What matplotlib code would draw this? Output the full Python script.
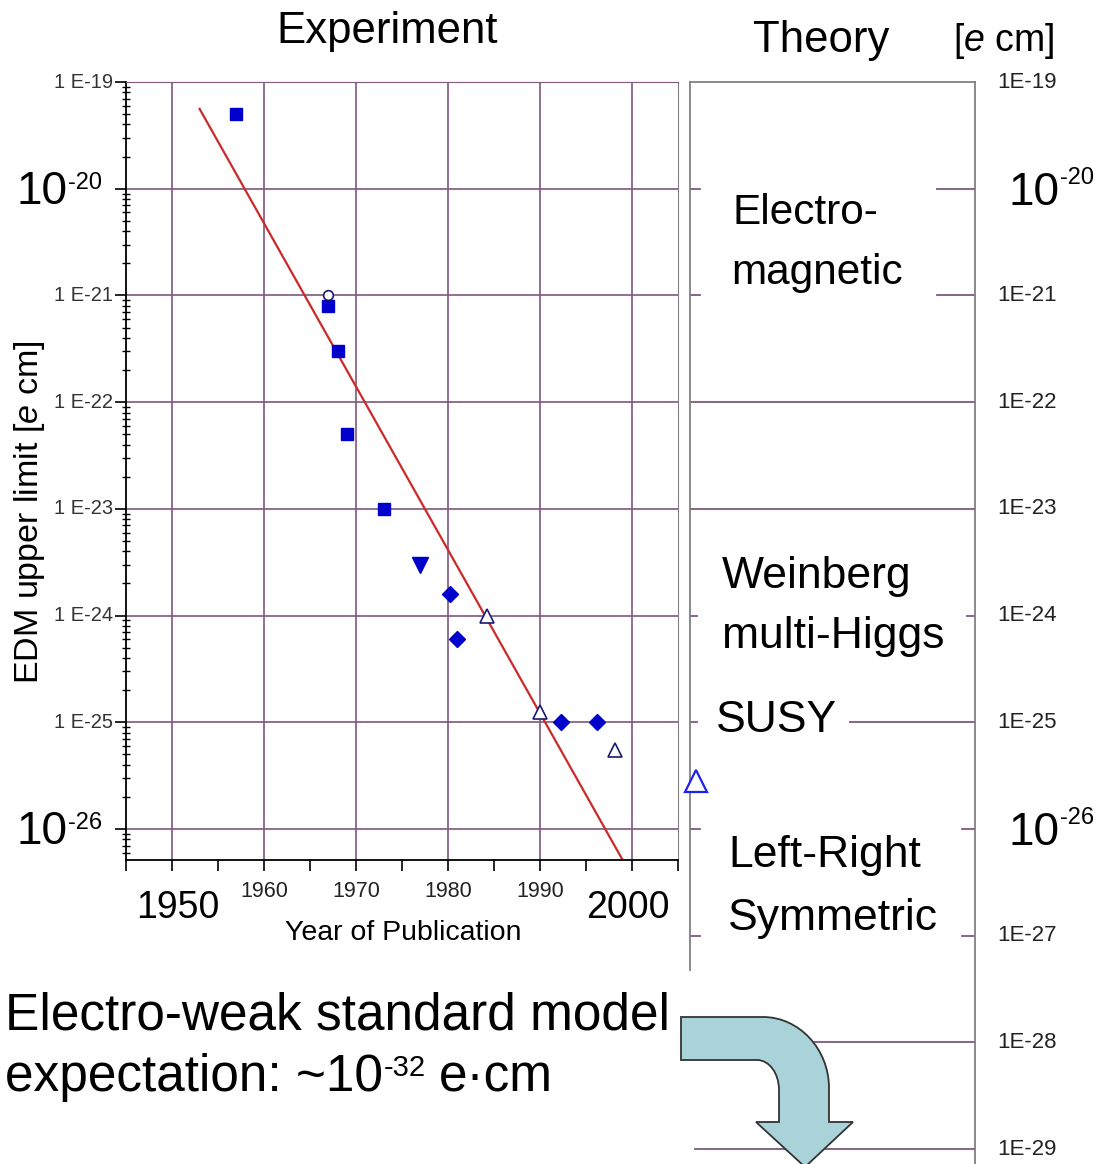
import numpy as np
import matplotlib
matplotlib.use('Agg')
import matplotlib.pyplot as plt
from matplotlib.path import Path
from matplotlib.patches import PathPatch
from matplotlib.ticker import LogLocator, NullFormatter, MultipleLocator, FixedLocator
from matplotlib.transforms import offset_copy

plt.rcParams['font.family'] = ['Liberation Sans', 'DejaVu Sans']
plt.rcParams['mathtext.fontset'] = 'custom'
plt.rcParams['mathtext.rm'] = 'Liberation Sans'
plt.rcParams['mathtext.it'] = 'Liberation Sans:italic'

#################################################################
# donnees

sq_year = [1957, 1967, 1968, 1969, 1973]
sq_edm = [5e-20, 8e-22, 3e-22, 5e-23, 1e-23]
circ_year = [1967]
circ_edm = [1e-21]
dtri_year = [1977]
dtri_edm = [3e-24]
dia_year = [1980.2, 1981, 1992.3, 1996.2]
dia_edm = [1.6e-24, 6e-25, 1e-25, 1e-25]
utri_year = [1984.2, 1990, 1998.2]
utri_edm = [1e-24, 1.25e-25, 5.5e-26]
new_year = [2007]
new_edm = [2.8e-26]

fit_year = [1953, 1999]
fit_edm = [5.6e-20, 5.1e-27]

year_ticks = [1950, 1960, 1970, 1980, 1990, 2000]
big_years = {1950: 6, 2000: -4}     # annee -> decalage en pixels
left_decades = [-19, -20, -21, -22, -23, -24, -25, -26]
right_decades = [-19, -20, -21, -22, -23, -24, -25, -26, -27, -28, -29]
big_decades = [-20, -26]

# (niveau, [segments en fraction d'axe])
theory_lines = [
    (1e-20, [(0, 0.035), (0.867, 1)]),
    (1e-21, [(0, 0.035), (0.867, 1)]),
    (1e-22, [(0, 1)]),
    (1e-23, [(0, 1)]),
    (1e-24, [(0, 0.025), (0.972, 1)]),
    (1e-25, [(0, 0.025), (0.56, 1)]),
    (1e-26, [(0, 0.035), (0.955, 1)]),
    (1e-27, [(0, 0.035), (0.955, 1)]),
    (1e-28, [(0.42, 1)]),
    (1e-29, [(0.018, 1)]),
]

# texte, x, ligne de base, taille
theory_labels = [
    ("Electro-", 732, 224, 30.5),
    ("magnetic", 731, 284, 30.5),
    ("Weinberg", 722, 588, 32),
    ("multi-Higgs", 722, 648, 32),
    ("SUSY", 716, 732, 32),
    ("Left-Right", 728, 867, 32),
    ("Symmetric", 728, 930, 32),
]

#################################################################

W, H = 1095, 1164
fig = plt.figure(figsize=(W / 100, H / 100), dpi=100)
fig.patch.set_facecolor('white')

def fx(x):
    return x / W

def fy(y):
    return 1 - y / H

GRID = '#7d587d'
GRAY = '#808080'

## panneau theorie (dessine en dessous du panneau experience)
ax2 = fig.add_axes([fx(690), 0, 285 / W, 1 - 82 / H], zorder=1)
ax2.set_yscale('log')
ax2.set_xlim(0, 1)
ax2.set_ylim(10 ** -29.14, 1e-19)
ax2.set_xticks([])
ax2.yaxis.set_major_locator(FixedLocator([]))
ax2.yaxis.set_minor_locator(FixedLocator([]))
for s in ['top', 'right', 'left']:
    ax2.spines[s].set_color(GRAY)
    ax2.spines[s].set_linewidth(1.3)
ax2.spines['bottom'].set_visible(False)
ax2.spines['left'].set_bounds(10 ** -27.32, 1e-19)

for lvl, segs in theory_lines:
    for a, b in segs:
        ax2.axhline(lvl, xmin=a, xmax=b, color=GRID, lw=1.3, zorder=1)

ytr2 = ax2.get_yaxis_transform()
for d in right_decades:
    if d in big_decades:
        t = offset_copy(ytr2, fig, x=33, y=-16, units='dots')
        ax2.text(1, 10.0 ** d, '10', transform=t, ha='left', va='baseline',
                 fontsize=33, clip_on=False)
        t = offset_copy(ytr2, fig, x=85, y=5, units='dots')
        ax2.text(1, 10.0 ** d, '-%d' % -d, transform=t, ha='left', va='baseline',
                 fontsize=17, clip_on=False)
    else:
        t = offset_copy(ytr2, fig, x=22, y=0, units='dots')
        ax2.text(1, 10.0 ** d, '1E%d' % d, transform=t, ha='left', va='center',
                 fontsize=16, color='#222222', clip_on=False)

for txt, x, y, fs in theory_labels:
    fig.text(fx(x), fy(y), txt, ha='left', va='baseline', fontsize=fs)

## panneau experience
ax = fig.add_axes([fx(126), fy(860), 552 / W, 778 / H], zorder=2)
ax.patch.set_alpha(0)
ax.set_yscale('log')
ax.set_xlim(1945, 2005)
ax.set_ylim(10 ** -26.29, 1e-19)

ax.xaxis.set_major_locator(MultipleLocator(5))
ax.yaxis.set_major_locator(FixedLocator([10.0 ** d for d in left_decades]))
ax.yaxis.set_minor_locator(LogLocator(base=10, subs=np.arange(2, 10), numticks=100))
ax.yaxis.set_minor_formatter(NullFormatter())
ax.tick_params(axis='both', which='major', direction='out', length=8, width=1.2,
               labelleft=False, labelbottom=False)
ax.tick_params(axis='y', which='minor', direction='inout', length=6, width=1)

for y in year_ticks:
    ax.axvline(y, color=GRID, lw=1.2, zorder=0)
for d in left_decades:
    ax.axhline(10.0 ** d, color=GRID, lw=1.2, zorder=0)

ax.spines['top'].set_color(GRID)
ax.spines['right'].set_color(GRAY)
ax.spines['left'].set_linewidth(1.3)
ax.spines['bottom'].set_linewidth(1.3)

ax.plot(fit_year, fit_edm, color='#cc2a2a', lw=1.6, zorder=2)
ax.plot(sq_year, sq_edm, 's', color='#0000cc', ms=8, zorder=3)
ax.plot(circ_year, circ_edm, 'o', mfc='white', mec='#1a1a70', mew=1.2, ms=7, zorder=3)
ax.plot(dtri_year, dtri_edm, 'v', color='#0000cc', ms=11, zorder=3)
ax.plot(dia_year, dia_edm, 'D', color='#0000cc', ms=8.5, zorder=3)
ax.plot(utri_year, utri_edm, '^', mfc='white', mec='#1a1a70', mew=1.2, ms=10, zorder=3)
ax.plot(new_year, new_edm, '^', mfc='white', mec='#2020ee', mew=1.6, ms=16,
        zorder=6, clip_on=False)

# etiquettes de l'axe y
ytr = ax.get_yaxis_transform()
for d in left_decades:
    if d in big_decades:
        t = offset_copy(ytr, fig, x=-109, y=-15, units='dots')
        ax.text(0, 10.0 ** d, '10', transform=t, ha='left', va='baseline', fontsize=33)
        t = offset_copy(ytr, fig, x=-58, y=0, units='dots')
        ax.text(0, 10.0 ** d, '-%d' % -d, transform=t, ha='left', va='baseline',
                fontsize=17)
    else:
        t = offset_copy(ytr, fig, x=-13, y=0, units='dots')
        ax.text(0, 10.0 ** d, '1 E%d' % d, transform=t, ha='right', va='center',
                fontsize=14.5, color='#333333')

# etiquettes de l'axe x
xtr = ax.get_xaxis_transform()
for y in year_ticks:
    if y in big_years:
        t = offset_copy(xtr, fig, x=big_years[y], y=-58, units='dots')
        ax.text(y, 0, str(y), transform=t, ha='center', va='baseline', fontsize=27)
    else:
        t = offset_copy(xtr, fig, x=0, y=-37, units='dots')
        ax.text(y, 0, str(y), transform=t, ha='center', va='baseline', fontsize=15.5,
                color='#222222')

fig.text(fx(403), fy(940), 'Year of Publication', ha='center', va='baseline', fontsize=20.5)
fig.text(fx(30), fy(512), r'EDM upper limit [$\it{e}$ cm]', ha='center', va='center',
         rotation=90, fontsize=24.5)

## titres
fig.text(fx(387), fy(43), 'Experiment', ha='center', va='baseline', fontsize=31.5)
fig.text(fx(821), fy(52), 'Theory', ha='center', va='baseline', fontsize=31.5)
fig.text(fx(1004), fy(51), r'[$\it{e}$ cm]', ha='center', va='baseline', fontsize=27)

fig.text(fx(5), fy(1030), 'Electro-weak standard model', ha='left', va='baseline',
         fontsize=37)
r = fig.canvas.get_renderer()
t1 = fig.text(fx(5), fy(1091), 'expectation: ~10', ha='left', va='baseline', fontsize=37)
x1 = t1.get_window_extent(r).x1
t2 = fig.text((x1 + 1) / W, fy(1076), '-32', ha='left', va='baseline', fontsize=21)
x2 = t2.get_window_extent(r).x1
fig.text((x2 + 13) / W, fy(1091), 'e\u00b7cm', ha='left', va='baseline', fontsize=37)

## fleche courbe
ov = fig.add_axes([0, 0, 1, 1], zorder=10)
ov.set_xlim(0, W)
ov.set_ylim(H, 0)
ov.axis('off')
ov.patch.set_alpha(0)

verts = [
    (681, 1017), (763, 1017),
    (799, 1017), (829, 1049), (829, 1088),
    (829, 1122), (853, 1122), (805, 1167), (756, 1122), (779, 1122),
    (779, 1090),
    (779, 1073), (769, 1060), (757, 1060),
    (681, 1060), (681, 1017),
]
codes = [Path.MOVETO, Path.LINETO,
         Path.CURVE4, Path.CURVE4, Path.CURVE4,
         Path.LINETO, Path.LINETO, Path.LINETO, Path.LINETO, Path.LINETO,
         Path.LINETO,
         Path.CURVE4, Path.CURVE4, Path.CURVE4,
         Path.LINETO, Path.CLOSEPOLY]
ov.add_patch(PathPatch(Path(verts, codes), facecolor='#a9d3d9', edgecolor='#333333',
                       lw=1.3, clip_on=False))

fig.savefig('out.png', dpi=100)
